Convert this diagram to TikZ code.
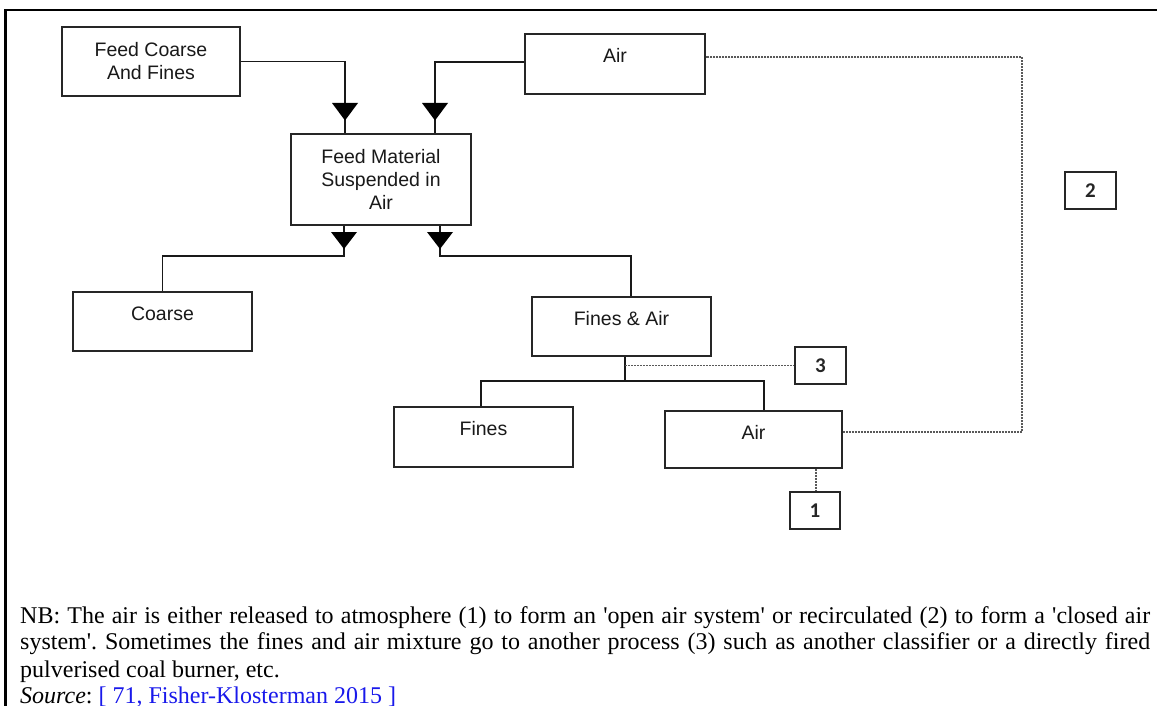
\documentclass[tikz,border=0pt]{standalone}
\usepackage{fontspec}
\setmainfont{Liberation Serif}
\newfontfamily\arialf{Liberation Sans}
\newfontfamily\calf{Carlito}
\newfontfamily\capf{Liberation Serif}[Ligatures=TeXOff]
\definecolor{linkblue}{RGB}{25,25,235}
\frenchspacing
\begin{document}
\begin{tikzpicture}[x=1pt,y=-1pt,
  box/.style={draw=black!85, line width=1.5pt, inner sep=0pt},
  lbl/.style={font=\arialf\fontsize{19.5}{23}\selectfont, text=black!90, align=center, inner sep=0pt},
  num/.style={box, font=\calf\bfseries\fontsize{21}{22}\selectfont, text=black!85},
  conn/.style={draw=black!90, line width=1.3pt},
  dotl/.style={draw=black!65, line width=1.8pt, dash pattern=on 2pt off 1pt},
  tri/.style={fill=black},
  captext/.style={font=\capf\fontsize{24}{26}\selectfont, inner sep=0pt, anchor=base west}
]
\useasboundingbox (0,0) rectangle (1157,706);
\fill[white] (0,0) rectangle (1157,706);
% frame
\draw[line width=2.5pt] (5.5,706) -- (5.5,10) -- (1157,10);

% boxes
\node[box, lbl, minimum width=178, minimum height=69] (feed) at (151,61.5) {Feed Coarse\\And Fines};
\node[box, minimum width=180, minimum height=60] (airT) at (615,64) {};
\node[lbl, anchor=base] (airTt) at (615,63) {Air};
\node[box, lbl, minimum width=180, minimum height=91] (fm) at (381,179.5) {Feed Material\\Suspended in\\Air};
\node[box, minimum width=179, minimum height=59] (coarse) at (162.5,321.5) {};
\node[lbl, anchor=base] (coarset) at (162.5,320) {Coarse};
\node[box, minimum width=179, minimum height=59] (fa) at (621.5,326.5) {};
\node[lbl, anchor=base] (fat) at (621.5,325) {Fines \& Air};
\node[box, minimum width=179, minimum height=60] (fines) at (483.5,437) {};
\node[lbl, anchor=base] (finest) at (483.5,435) {Fines};
\node[box, minimum width=177, minimum height=57] (airB) at (753.5,439.5) {};
\node[lbl, anchor=base] (airBt) at (753.5,439) {Air};
\node[num, minimum width=51, minimum height=37] (n3) at (820.5,365.5) {3};
\node[num, minimum width=50, minimum height=37] (n1) at (815,510.5) {1};
\node[num, minimum width=51, minimum height=37] (n2) at (1090.5,190.5) {2};

% helper coordinates
\coordinate (xa) at (345,0);
\coordinate (xb) at (435,0);
\coordinate (xc) at (344,0);
\coordinate (xd) at (440,0);
\coordinate (yj) at (0,256);
\coordinate (xe) at (631,0);
\coordinate (xf) at (625,0);
\coordinate (yk) at (0,381);
\coordinate (xg) at (481,0);
\coordinate (xh) at (764,0);
\coordinate (xr) at (1022,0);
\coordinate (yt) at (0,57);
\coordinate (xi) at (816,0);

% connectors
\draw[conn] (feed.east) -| (fm.north -| xa);
\draw[conn] ([yshift=2]airT.west) -| (fm.north -| xb);
\draw[conn] (fm.south -| xc) |- (coarse.north |- yj) -- (coarse.north);
\draw[conn] (fm.south -| xd) |- (xe |- yj) -- (fa.north -| xe);
\draw[conn] (fa.south -| xf) -- (xf |- yk);
\draw[conn] (fines.north -| xg) -- (xg |- yk) -- (xh |- yk) -- (airB.north -| xh);

% triangles
\fill[tri] (332,103) -- (358,103) -- (345,120.5) -- cycle;
\fill[tri] (422,103) -- (448,103) -- (435,120.5) -- cycle;
\fill[tri] (331,232) -- (357,232) -- (344,249) -- cycle;
\fill[tri] (427,232) -- (453,232) -- (440,249) -- cycle;

% dotted
\draw[dotl] (xf |- n3.west) -- (n3.west);
\draw[dotl] ([yshift=7.5]airB.east) -| (xr |- yt) -- (airT.east |- yt);
\draw[dotl] (airB.south -| xi) -- (n1.north -| xi);

% caption
\node[captext] (c1) at (20,623) {\makebox[1130pt][s]{NB: The air is either released to atmosphere (1) to form an 'open air system' or recirculated (2) to form a 'closed air}};
\node[captext] (c2) at (20,649.5) {\makebox[1130pt][s]{system'. Sometimes the fines and air mixture go to another process (3) such as another classifier or a directly fired}};
\node[captext] (c3) at (20,677) {pulverised coal burner, etc.};
\node[captext] (c4) at (20,703) {{\itshape Source}: {\color{linkblue}[ 71, Fisher-Klosterman 2015 ]}};
\end{tikzpicture}
\end{document}
